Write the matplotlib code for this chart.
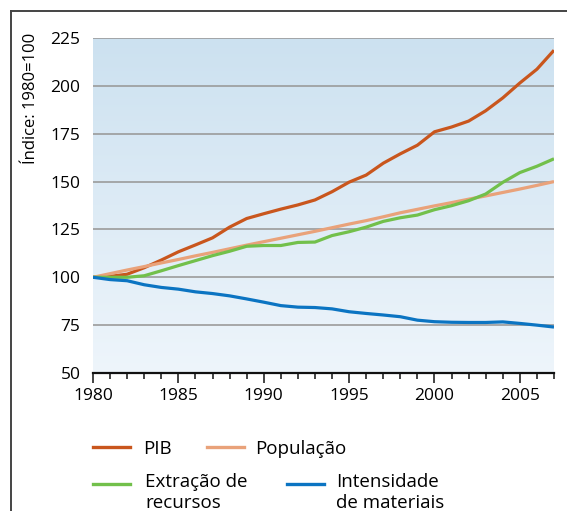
import numpy as np
import matplotlib
matplotlib.use("Agg")
import matplotlib.pyplot as plt
from matplotlib.colors import LinearSegmentedColormap
from matplotlib.lines import Line2D
from matplotlib.ticker import MultipleLocator

# Data (index, 1980 = 100)
years = list(range(1980, 2008))
pib = [100, 100.5, 101.6, 105.0, 109.0, 113.3, 116.9, 120.6, 126.2, 130.7,
       133.2, 135.6, 137.8, 140.4, 144.7, 149.7, 153.4, 159.6, 164.5, 169.0,
       176.0, 178.5, 181.6, 187.0, 193.7, 201.5, 208.7, 218.6]
populacao = [100, 101.9, 103.8, 105.6, 107.5, 109.3, 111.2, 113.0, 114.9, 116.8,
             118.6, 120.4, 122.2, 124.0, 125.9, 127.8, 129.6, 131.6, 133.7, 135.5,
             137.3, 139.0, 140.8, 142.5, 144.3, 146.1, 148.0, 150.0]
extracao = [100, 100, 100, 100.8, 103.4, 106.1, 108.7, 111.3, 113.6, 116.2,
            116.6, 116.6, 118.2, 118.4, 121.8, 123.8, 126.2, 129.2, 131.1, 132.5,
            135.3, 137.4, 140.0, 143.5, 149.6, 154.7, 158.0, 161.9]
intensidade = [100, 98.8, 98.2, 96.1, 94.7, 93.8, 92.4, 91.5, 90.3, 88.7,
               87.0, 85.2, 84.4, 84.2, 83.5, 82.0, 81.1, 80.3, 79.4, 77.6,
               76.8, 76.5, 76.4, 76.4, 76.7, 75.9, 75.0, 74.0]

series = [
    ("PIB", pib, "#c9561d"),
    ("População", populacao, "#e9a27a"),
    ("Extração de\nrecursos", extracao, "#72c04b"),
    ("Intensidade\nde materiais", intensidade, "#0b74c2"),
]

plt.rcParams['font.family'] = ['Open Sans', 'DejaVu Sans']

W, H = 567, 511
fig = plt.figure(figsize=(W / 100, H / 100), dpi=100)
ax = fig.add_axes([93 / W, 1 - 373 / H, (554 - 93) / W, (373 - 38) / H])

# gradient background
cmap = LinearSegmentedColormap.from_list("bg", ["#eef5fb", "#cce1f0"])
grad = np.linspace(0, 1, 256).reshape(-1, 1)
ax.imshow(grad, extent=[1980, 2007, 50, 225], origin="lower", aspect="auto",
          cmap=cmap, zorder=0)

for y in range(75, 226, 25):
    ax.axhline(y, color="#9b9b9b", lw=1.2, zorder=1)

for name, vals, col in series:
    ax.plot(years, vals, color=col, lw=2.3, zorder=3, solid_capstyle="butt")

ax.set_xlim(1980, 2007)
ax.set_ylim(50, 225)
ax.xaxis.set_major_locator(MultipleLocator(5))
ax.xaxis.set_minor_locator(MultipleLocator(1))
ax.yaxis.set_major_locator(MultipleLocator(25))

for s in ["top", "right", "left"]:
    ax.spines[s].set_visible(False)
ax.spines["bottom"].set_linewidth(1.6)
ax.spines["bottom"].set_color("#111111")

ax.tick_params(axis="x", which="major", length=7.5, width=1.1, direction="out",
               labelsize=12.5, pad=3, color="#111111")
ax.tick_params(axis="x", which="minor", length=4.5, width=1.1, direction="out",
               color="#111111")
ax.tick_params(axis="y", length=0, labelsize=12.5, pad=9)

fig.text(31 / W, 1 - 33 / H, "Índice: 1980=100", rotation=90, ha="center",
         va="top", fontsize=12)

# outer frame
fig.add_artist(Line2D([11 / W, 1.05], [1 - 11 / H, 1 - 11 / H], color="#444444", lw=1.4))
fig.add_artist(Line2D([11 / W, 11 / W], [1 - 11 / H, -0.05], color="#444444", lw=1.4))

# legend
legend_pos = [
    (93, 447, 143),
    (207, 447, 255),
    (93, 484, 145),
    (287, 484, 336),
]
for (name, vals, col), (hx, hy, tx) in zip(series, legend_pos):
    fig.add_artist(Line2D([hx / W, (hx + 37) / W], [1 - hy / H, 1 - hy / H],
                          color=col, lw=2.4))
    if "\n" in name:
        fig.text(tx / W, 1 - 473 / H, name, ha="left", va="top", fontsize=13.5,
                 linespacing=1.2)
    else:
        fig.text(tx / W, 1 - hy / H, name, ha="left", va="center_baseline",
                 fontsize=13.5)

fig.savefig("out.png", dpi=100)
